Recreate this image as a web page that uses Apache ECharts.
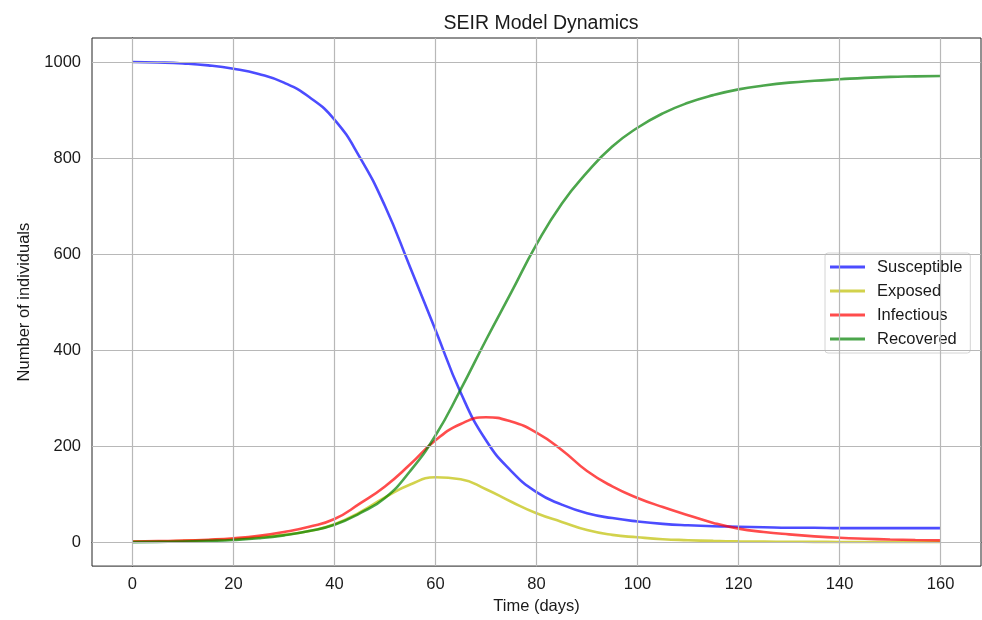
<!DOCTYPE html>
<html>
<head>
<meta charset="utf-8">
<title>SEIR Model Dynamics</title>
<script src="https://cdn.jsdelivr.net/npm/echarts@6/dist/echarts.min.js"></script>
<style>
  html, body { margin: 0; padding: 0; background: #fff; }
  #chart { width: 982px; height: 620px; }
</style>
</head>
<body>
<div id="chart"></div>
<script>
// ========== SEIR 曲线 ==========
const days = [0, 5, 10, 15, 20, 25, 30, 35, 40, 45, 50, 55, 60, 65, 70, 75, 80,
              85, 90, 95, 100, 105, 110, 115, 120, 125, 130, 135, 140, 145, 150, 155, 160];
const susceptible = [1000, 999, 997, 993, 986, 975, 957, 927, 880, 802, 700, 572, 442, 311, 212, 148, 104,
                     78, 60, 50, 43, 38, 35, 33, 32, 31, 30, 30, 29, 29, 29, 29, 29];
const exposed = [1, 1.5, 2.5, 4, 6, 10, 15, 23, 37, 62, 93, 120, 135, 131, 110, 84, 60,
                 42, 25, 15, 10, 6, 4, 2.5, 1.5, 1, 0.7, 0.5, 0.3, 0.2, 0.2, 0.1, 0.1];
const infectious = [1, 2, 3, 5, 8, 13, 21, 32, 48, 80, 116, 162, 212, 246, 260, 251, 228,
                    192, 148, 116, 92, 73, 56, 40, 28, 21, 16, 12, 9, 7, 5.5, 4.5, 3.5];
const recovered = [0, 0.5, 1, 2.5, 4.5, 8, 14, 23, 36, 60, 92, 148, 222, 318, 421, 520, 620,
                   705, 770, 824, 863, 893, 915, 931, 943, 951, 957, 961, 964, 967, 969, 970, 971];
const xTicks = [0, 20, 40, 60, 80, 100, 120, 140, 160];
const yTicks = [0, 200, 400, 600, 800, 1000];
const names = ['Susceptible', 'Exposed', 'Infectious', 'Recovered'];

const FONT = '"Liberation Sans", Arial, sans-serif';
const INK = '#1a1a1a';

const chart = echarts.init(document.getElementById('chart'), null, { renderer: 'canvas' });
const toPairs = vals => days.map((d, i) => [d, vals[i]]);
const curve = (name, vals, color) => ({
    name, type: 'line', data: toPairs(vals), z: 3,
    smooth: 0.5, symbol: 'none',
    lineStyle: { color, width: 2.6 }, itemStyle: { color }
});

chart.setOption({
    animation: false,
    backgroundColor: '#fff',
    textStyle: { fontFamily: FONT },
    title: {
        text: 'SEIR Model Dynamics', left: 536, top: 9, textAlign: 'center',
        textStyle: { fontFamily: FONT, fontSize: 19.5, fontWeight: 'normal', color: INK }
    },
    grid: { left: 92, right: 1, top: 38, bottom: 51, show: true, borderColor: '#222', borderWidth: 1 },
    legend: {
        data: names, orient: 'vertical', left: 825, top: 253,
        icon: 'rect', itemWidth: 35, itemHeight: 3, itemGap: 6,
        padding: [5, 8, 5, 5],
        backgroundColor: 'rgba(255,255,255,0.85)', borderColor: '#d4d4d4', borderWidth: 1, borderRadius: 3,
        textStyle: { fontFamily: FONT, fontSize: 16.5, color: INK, lineHeight: 18, padding: [0, 0, 0, 7] }
    },
    xAxis: {
        type: 'value', min: -8, max: 168,
        name: 'Time (days)', nameLocation: 'middle', nameGap: 31,
        nameTextStyle: { fontFamily: FONT, fontSize: 16.5, color: INK },
        axisLine: { lineStyle: { color: '#222' } },
        axisTick: { customValues: xTicks, length: 5, lineStyle: { color: '#222' } },
        axisLabel: { customValues: xTicks, margin: 10, fontFamily: FONT, fontSize: 16.5, color: INK },
        splitLine: { show: false }
    },
    yAxis: {
        type: 'value', min: -50, max: 1050,
        name: 'Number of individuals', nameLocation: 'middle', nameGap: 56, nameRotate: 90,
        nameTextStyle: { fontFamily: FONT, fontSize: 16.5, color: INK },
        axisLine: { show: true, lineStyle: { color: '#222' } },
        axisTick: { show: true, customValues: yTicks, length: 5, lineStyle: { color: '#222' } },
        axisLabel: { customValues: yTicks, margin: 11, fontFamily: FONT, fontSize: 16.5, color: INK,
                     formatter: v => String(v) },
        splitLine: { show: false }
    },
    series: [
        // 网格线（放在曲线下面）
        {
            type: 'line', data: [[0, 0]], symbol: 'none', z: 1, silent: true,
            lineStyle: { opacity: 0 },
            markLine: {
                silent: true, symbol: ['none', 'none'], label: { show: false },
                lineStyle: { color: '#b8b8b8', type: 'solid', width: 1.2 },
                data: xTicks.map(v => ({ xAxis: v })).concat(yTicks.map(v => ({ yAxis: v })))
            }
        },
        curve('Susceptible', susceptible, 'rgba(0,0,255,0.7)'),
        curve('Exposed', exposed, 'rgba(191,191,0,0.7)'),
        curve('Infectious', infectious, 'rgba(255,0,0,0.7)'),
        curve('Recovered', recovered, 'rgba(0,128,0,0.7)')
    ]
});
</script>
</body>
</html>
